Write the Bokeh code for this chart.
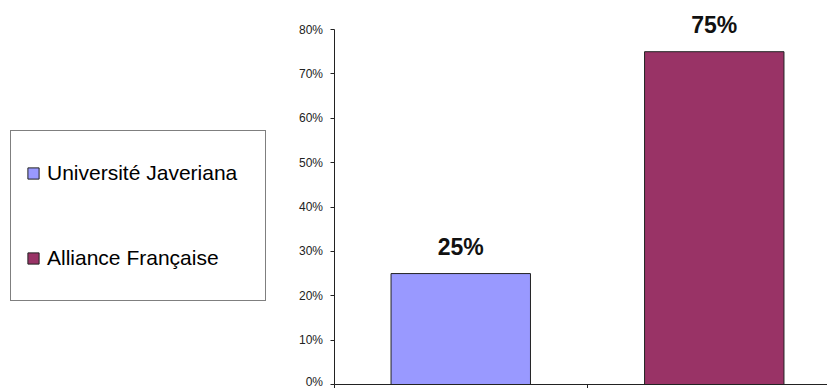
from bokeh.plotting import figure
from bokeh.models import (ColumnDataSource, Legend, LegendItem, FixedTicker,
                          NumeralTickFormatter, Range1d, CustomJSTickFormatter)
from bokeh.core.properties import value
from bokeh.embed import file_html
from bokeh.resources import INLINE

# ---- data ----
institutions = ["Université Javeriana", "Alliance Française"]
shares = [0.25, 0.75]
share_labels = ["25%", "75%"]
colors = ["#9999FF", "#993366"]
y_ticks = [0.0, 0.1, 0.2, 0.3, 0.4, 0.5, 0.6, 0.7, 0.8]
category_bounds = [0, 1, 2]

positions = [i + 0.5 for i in range(len(institutions))]

src = ColumnDataSource(dict(x=positions, top=shares, label=share_labels,
                            color=colors, name=institutions))

p = figure(width=827, height=388, output_backend="svg", toolbar_location=None,
           x_range=Range1d(-1.3156, 1.9467), y_range=Range1d(-0.009, 0.8654),
           min_border_left=0, min_border_right=0, min_border_top=0,
           min_border_bottom=0)
p.background_fill_color = "white"
p.border_fill_color = "white"
p.outline_line_color = None
p.xgrid.visible = False
p.ygrid.visible = False

bars = p.vbar(x="x", top="top", width=0.55, bottom=0, source=src,
              fill_color="color", line_color="#222222", line_width=1)

p.text(x="x", y="top", text="label", source=src, y_offset=-27,
       text_align="center", text_baseline="alphabetic",
       text_font=value("Liberation Sans"), text_font_style="bold",
       text_font_size="23px", text_color="#111111")

# y axis, pinned at the start of the category axis
ya = p.yaxis[0]
ya.fixed_location = 0
ya.ticker = FixedTicker(ticks=y_ticks)
ya.bounds = (0, 0.8)
ya.formatter = NumeralTickFormatter(format="0%")
ya.major_label_text_font = "Liberation Sans"
ya.major_label_text_font_size = "12px"
ya.major_label_text_color = "#222222"
ya.major_tick_out = 4
ya.major_tick_in = 0
ya.minor_tick_out = 0
ya.minor_tick_in = 0
ya.major_label_standoff = 7
ya.axis_line_color = "#222222"
ya.major_tick_line_color = "#222222"

# x axis (category boundaries, no labels), pinned at zero
xa = p.xaxis[0]
xa.fixed_location = 0
xa.ticker = FixedTicker(ticks=category_bounds)
xa.bounds = (0, 2)
xa.major_label_overrides = {0: "", 1: "", 2: ""}
xa.major_label_standoff = 0
xa.major_tick_out = 4
xa.major_tick_in = 0
xa.minor_tick_out = 0
xa.minor_tick_in = 0
xa.axis_line_color = "#222222"
xa.major_tick_line_color = "#222222"

items = [LegendItem(label=institutions[i], renderers=[bars], index=i)
         for i in range(len(institutions))]
legend = Legend(items=items, location=(10, 87), orientation="vertical",
                glyph_width=14, glyph_height=14, label_standoff=7,
                label_width=203, label_height=54, spacing=31, padding=15,
                margin=0,
                label_text_font="Liberation Sans", label_text_font_size="21px",
                label_text_color="#000000",
                border_line_color="#000000", border_line_width=1,
                background_fill_color="white", background_fill_alpha=1)
p.add_layout(legend, "center")

open("out.html", "w").write(file_html(p, INLINE))
